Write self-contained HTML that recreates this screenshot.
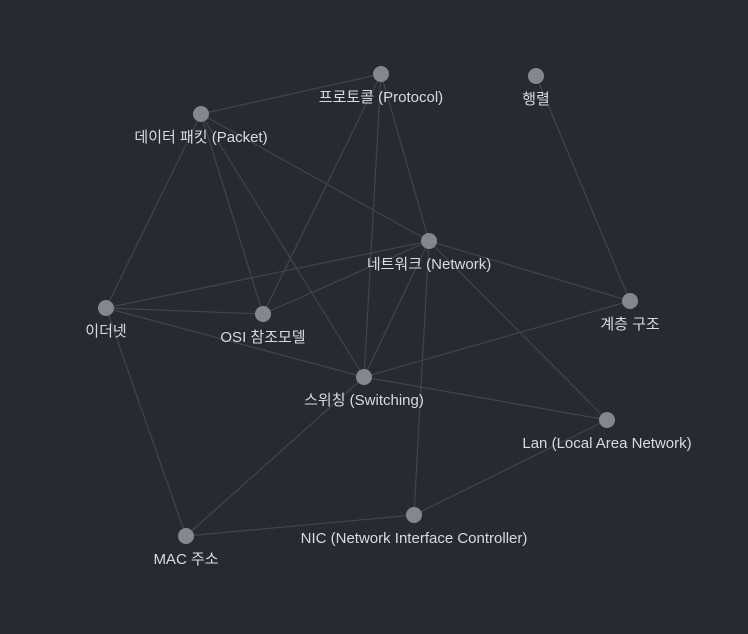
<!DOCTYPE html>
<html><head><meta charset="utf-8">
<style>
html,body{margin:0;padding:0;background:#262a33;}
svg{display:block;}
text{font-family:"Liberation Sans","Noto Sans CJK KR",sans-serif;font-size:15px;fill:#dadbe0;}
</style></head>
<body>
<svg id="chart" width="748" height="634"></svg>
<script>
const nodeNames = ["프로토콜 (Protocol)","행렬","데이터 패킷 (Packet)","네트워크 (Network)","이더넷","OSI 참조모델","계층 구조","스위칭 (Switching)","Lan (Local Area Network)","NIC (Network Interface Controller)","MAC 주소"];
const nodeX = [381,536,201,429,106,263,630,364,607,414,186];
const nodeY = [74,76,114,241,308,314,301,377,420,515,536];
const edgeSource = [0,0,0,0,1,2,2,2,2,3,3,3,3,3,3,4,4,4,6,7,7,10,9];
const edgeTarget = [2,5,7,3,6,3,4,5,7,4,5,6,7,8,9,5,7,10,7,8,10,9,8];
const NS="http://www.w3.org/2000/svg";
const svg=document.getElementById('chart');
const eg=document.createElementNS(NS,'g');


svg.appendChild(eg);
for(let i=0;i<edgeSource.length;i++){
  const a=edgeSource[i],b=edgeTarget[i];
  const l=document.createElementNS(NS,'line');
  l.setAttribute('x1',nodeX[a]);l.setAttribute('y1',nodeY[a]);
  l.setAttribute('x2',nodeX[b]);l.setAttribute('y2',nodeY[b]);
  l.setAttribute('stroke','#444449');l.setAttribute('stroke-width','1.2');
  
  
  eg.appendChild(l);
}
for(let i=0;i<nodeNames.length;i++){
  const g=document.createElementNS(NS,'g');
  
  
  const c=document.createElementNS(NS,'circle');
  c.setAttribute('cx',nodeX[i]);c.setAttribute('cy',nodeY[i]);c.setAttribute('r','8');
  c.setAttribute('fill','#868690');
  
  
  const t=document.createElementNS(NS,'text');
  t.setAttribute('x',nodeX[i]);t.setAttribute('y',nodeY[i]+28);
  t.setAttribute('text-anchor','middle');
  t.textContent=nodeNames[i];
  
  
  g.appendChild(c);g.appendChild(t);svg.appendChild(g);
}
</script>
</body></html>
